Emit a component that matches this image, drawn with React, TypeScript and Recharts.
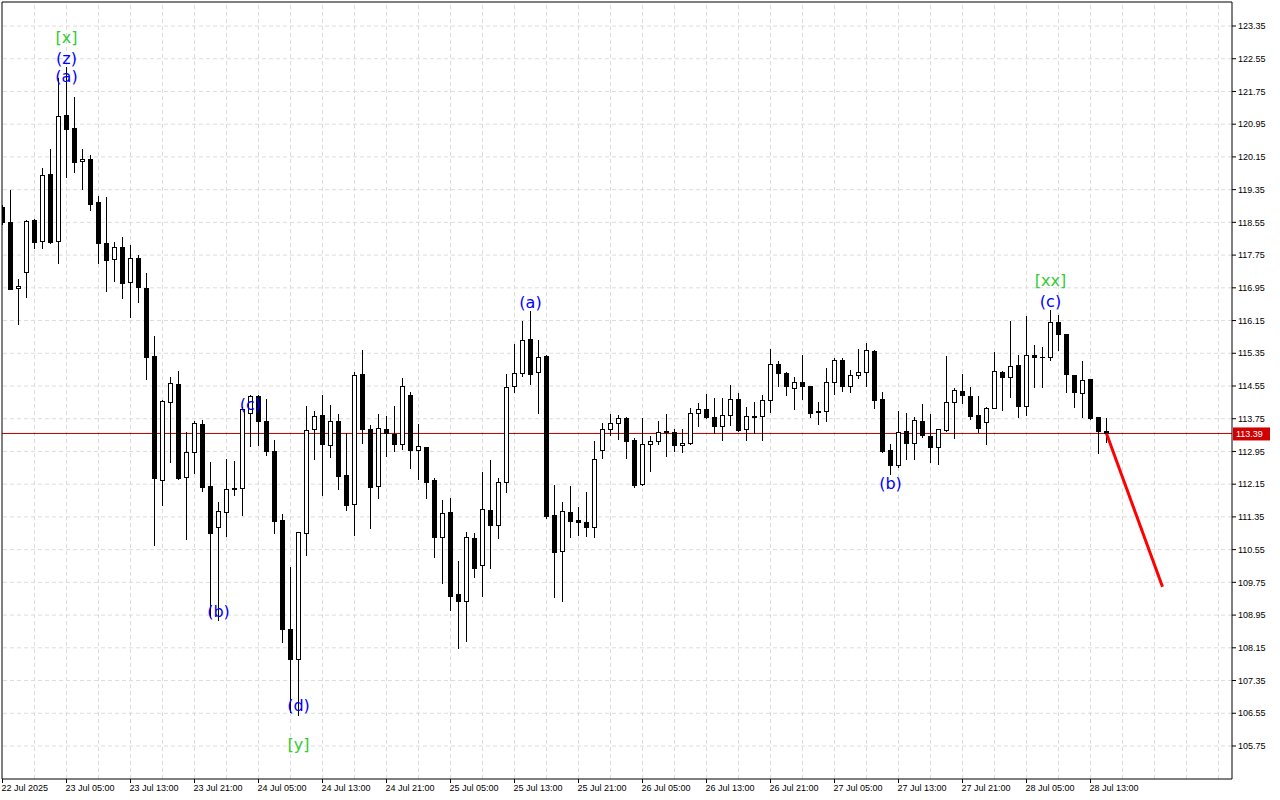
import { Bar, ComposedChart, ReferenceDot, ReferenceLine, XAxis, YAxis } from "recharts";

// hourly candles, index 0 = 22 Jul 21:00
const OPEN = [
  118.93, 118.56, 116.94, 117.33, 118.61, 118.1, 119.73, 118.09, 121.17, 120.86, 120.04, 120.09, 119.04, 118.04, 117.65, 117.94,
  117.09, 117.67, 116.95, 115.28, 112.25, 114.15, 114.6, 112.33, 112.93, 113.62, 112.11, 111.1, 111.46, 112.05, 112.05, 113.89,
  114.31, 113.69, 112.96, 111.27, 108.6, 107.87, 110.95, 113.49, 113.83, 113.1, 113.69, 112.37, 111.66, 114.84, 113.49, 112.11,
  113.49, 113.38, 113.14, 114.32, 112.98, 113.06, 112.24, 110.85, 111.46, 109.46, 109.29, 110.83, 110.17, 111.51, 111.15, 112.2,
  114.54, 114.86, 115.7, 114.89, 115.29, 111.4, 110.51, 111.46, 111.27, 111.22, 111.11, 112.98, 113.49, 113.64, 113.77, 113.23,
  112.15, 113.12, 113.2, 113.44, 113.42, 113.1, 113.15, 113.88, 113.98, 113.78, 113.58, 113.84, 114.22, 113.49, 113.81, 113.81,
  114.2, 115.08, 114.86, 114.49, 114.64, 114.54, 113.93, 113.93, 114.64, 115.19, 114.56, 114.83, 114.89, 115.41, 114.22, 112.98,
  112.63, 113.45, 113.15, 113.69, 113.33, 113.07, 113.47, 114.17, 114.43, 114.31, 113.83, 113.66, 114.02, 114.89, 114.76, 115.06,
  114.07, 115.31, 115.27, 115.25, 116.11, 115.81, 114.82, 114.37, 114.72, 113.78, 113.46,
];
const HIGH = [
  118.97, 119.34, 117.17, 118.61, 118.63, 119.88, 120.35, 122.08, 122.36, 121.61, 120.35, 120.2, 119.19, 119.17, 118.06, 118.19,
  118.0, 117.75, 117.31, 115.77, 114.21, 114.77, 114.92, 113.43, 113.7, 113.72, 112.68, 111.71, 112.77, 112.72, 114.04, 114.33,
  114.33, 114.23, 113.23, 111.42, 110.12, 110.99, 114.06, 113.95, 114.33, 114.09, 113.87, 113.39, 114.89, 115.43, 113.6, 113.87,
  113.82, 114.06, 114.75, 114.4, 113.62, 113.07, 112.3, 111.76, 111.8, 110.26, 110.97, 110.95, 112.44, 112.74, 112.29, 114.84,
  115.57, 116.14, 116.38, 115.67, 115.31, 112.13, 111.71, 112.11, 111.6, 111.96, 113.21, 113.65, 113.87, 113.83, 113.79, 113.27,
  113.76, 113.33, 113.69, 113.87, 113.5, 113.49, 114.0, 114.13, 114.35, 114.25, 114.25, 114.57, 114.39, 114.04, 114.17, 114.33,
  115.45, 115.17, 114.9, 114.76, 115.31, 114.55, 114.17, 114.98, 115.23, 115.23, 114.94, 115.45, 115.6, 115.44, 114.4, 113.14,
  113.95, 113.9, 113.79, 114.11, 113.87, 113.5, 115.29, 114.51, 114.84, 114.52, 114.31, 114.04, 115.39, 114.92, 116.14, 115.31,
  116.26, 115.55, 115.51, 116.41, 116.29, 115.82, 114.82, 115.15, 114.73, 113.8, 113.76,
];
const LOW = [
  118.51, 116.91, 116.07, 116.73, 117.93, 117.92, 118.05, 117.55, 119.67, 119.79, 119.37, 118.85, 117.56, 116.88, 117.12, 116.71,
  116.24, 116.61, 114.73, 110.66, 111.64, 112.7, 112.28, 110.81, 112.43, 111.99, 108.91, 108.83, 110.89, 111.89, 111.4, 113.09,
  113.11, 112.86, 110.95, 108.3, 106.59, 106.51, 110.42, 112.77, 111.89, 112.82, 112.04, 111.52, 110.91, 113.15, 111.09, 111.82,
  112.85, 112.97, 113.0, 112.55, 112.28, 111.82, 110.38, 109.74, 109.07, 108.14, 108.32, 109.88, 109.42, 110.11, 110.83, 111.95,
  114.41, 114.8, 114.59, 113.88, 111.32, 109.4, 109.3, 110.87, 110.91, 110.88, 110.87, 112.79, 113.35, 113.25, 112.8, 112.09,
  112.12, 112.48, 113.12, 112.85, 112.97, 112.94, 113.13, 113.58, 113.77, 113.41, 113.23, 113.6, 113.46, 113.23, 113.39, 113.23,
  113.92, 114.56, 114.32, 113.98, 114.22, 113.8, 113.61, 113.7, 114.36, 114.44, 114.41, 114.74, 114.56, 114.02, 112.93, 112.39,
  112.58, 112.76, 112.76, 113.3, 112.7, 112.64, 113.46, 113.29, 114.13, 113.74, 113.43, 113.13, 114.01, 113.96, 114.27, 113.78,
  113.84, 114.53, 114.53, 115.19, 115.42, 114.41, 114.04, 113.8, 113.75, 112.91, 113.19,
];
const CLOSE = [
  118.55, 116.93, 116.99, 118.58, 118.08, 119.71, 118.08, 121.14, 120.83, 120.03, 120.09, 119.01, 118.05, 117.64, 117.94, 117.08,
  117.67, 116.96, 115.27, 112.29, 114.18, 114.62, 112.31, 112.93, 113.64, 112.09, 110.96, 111.49, 112.03, 112.02, 113.98, 114.31,
  113.7, 112.97, 111.25, 108.6, 107.87, 110.97, 113.47, 113.82, 113.12, 113.69, 112.36, 111.65, 114.82, 113.49, 112.09, 113.52,
  113.41, 113.14, 114.54, 112.98, 113.08, 112.21, 110.87, 111.44, 109.42, 109.3, 110.85, 110.11, 111.54, 111.15, 112.2, 114.52,
  114.86, 115.67, 114.85, 115.26, 111.36, 110.48, 111.49, 111.26, 111.23, 111.11, 112.77, 113.49, 113.64, 113.76, 113.21, 112.14,
  113.13, 113.2, 113.43, 113.42, 113.1, 113.15, 113.88, 113.98, 113.78, 113.58, 113.84, 114.22, 113.47, 113.81, 113.79, 114.2,
  115.08, 114.86, 114.56, 114.64, 114.54, 113.9, 113.91, 114.64, 115.19, 114.56, 114.81, 114.89, 115.42, 114.21, 112.96, 112.63,
  113.42, 113.15, 113.72, 113.34, 113.07, 113.49, 114.16, 114.45, 114.32, 113.82, 113.53, 114.0, 114.92, 114.76, 115.03, 114.07,
  115.31, 115.27, 115.25, 116.11, 115.81, 114.84, 114.4, 114.69, 113.76, 113.45, 113.39,
];

const TIME_TICKS = [0, 8, 16, 24, 32, 40, 48, 56, 64, 72, 80, 88, 96, 104, 112, 120, 128, 136];
const TIME_LABELS = [
  "22 Jul 2025", "23 Jul 05:00", "23 Jul 13:00", "23 Jul 21:00", "24 Jul 05:00", "24 Jul 13:00",
  "24 Jul 21:00", "25 Jul 05:00", "25 Jul 13:00", "25 Jul 21:00", "26 Jul 05:00", "26 Jul 13:00",
  "26 Jul 21:00", "27 Jul 05:00", "27 Jul 13:00", "27 Jul 21:00", "28 Jul 05:00", "28 Jul 13:00",
];
const GRID_X = [
  4, 8, 12, 16, 20, 24, 28, 32, 36, 40, 44, 48, 52, 56, 60, 64, 68, 72, 76, 80, 84, 88, 92, 96, 100, 104, 108, 112, 116, 120,
  124, 128, 132, 136, 140, 144, 148, 152,
];
const PRICE_TICKS = [
  105.75, 106.55, 107.35, 108.15, 108.95, 109.75, 110.55, 111.35, 112.15, 112.95, 113.75, 114.55, 115.35, 116.15, 116.95,
  117.75, 118.55, 119.35, 120.15, 120.95, 121.75, 122.55, 123.35,
];
const X_DOMAIN = [-0.0625, 153.6875];
const Y_DOMAIN = [104.943, 123.937];

const LAST_PRICE = 113.39;
const FORECAST_X = [138, 145];
const FORECAST_Y = [113.39, 109.64];

const WAVE_TEXT = ["[x]", "(z)", "(a)", "(b)", "(c)", "(d)", "[y]", "(a)", "(b)", "[xx]", "(c)"];
const WAVE_BAR = [8, 8, 8, 27, 31, 37, 37, 66, 111, 131, 131];
const WAVE_PRICE = [123.06, 122.57, 122.13, 109.05, 114.11, 106.75, 105.8, 116.6, 112.18, 117.14, 116.63];

const FONT = "'Liberation Sans', Arial, sans-serif";
const WAVE_FONT = "'DejaVu Sans', sans-serif";

const data = OPEN.map((open, i) => ({
  i,
  open,
  high: HIGH[i],
  low: LOW[i],
  close: CLOSE[i],
  range: [LOW[i], HIGH[i]],
}));

function Candle(props: any) {
  const { x, y, width, height, payload } = props;
  if (!payload || x == null || y == null) return null;
  const { open, close, high, low } = payload;
  const top = Math.min(y, y + height);
  const ppu = Math.abs(height) / (high - low || 1);
  const py = (v: number) => top + (high - v) * ppu;
  const cx = Math.round(x + width / 2 - 0.5) + 0.5;
  const bodyTop = Math.round(py(Math.max(open, close))) + 0.5;
  const bodyBottom = Math.round(py(Math.min(open, close))) + 0.5;
  const bull = close >= open;
  return (
    <g>
      <line x1={cx} x2={cx} y1={Math.round(py(high))} y2={Math.round(py(low)) + 1} stroke="#000" strokeWidth={1} />
      {bodyBottom - bodyTop < 1 ? (
        <line x1={cx - 2.5} x2={cx + 2.5} y1={bodyTop} y2={bodyTop} stroke="#000" strokeWidth={1} />
      ) : (
        <rect x={cx - 2} y={bodyTop} width={4} height={bodyBottom - bodyTop} fill={bull ? "#fff" : "#000"} stroke="#000" strokeWidth={1} />
      )}
    </g>
  );
}

function TimeTick({ x, y, payload }: any) {
  const label = TIME_LABELS[TIME_TICKS.indexOf(payload.value)];
  return (
    <text x={x - 1} y={y} dy={7} fontSize={9} fontFamily={FONT} fill="#000" textAnchor="start">
      {label}
    </text>
  );
}

function PriceTag({ viewBox }: any) {
  if (!viewBox) return null;
  const left = viewBox.x + viewBox.width + 1;
  return (
    <g>
      <rect x={left} y={viewBox.y - 6} width={37} height={13} fill="#d00000" />
      <text x={left + 3} y={viewBox.y} dy="0.355em" fontSize={9} fontFamily={FONT} fill="#fff">
        {LAST_PRICE.toFixed(2)}
      </text>
    </g>
  );
}

export default function App() {
  return (
    <div style={{ position: "absolute", left: 0, top: 0, width: 1280, height: 800, background: "#fff" }}>
      <ComposedChart width={1280} height={800} data={data} margin={{ top: 2, right: 0, bottom: 0, left: 2 }}>
        <XAxis
          dataKey="i"
          type="number"
          domain={X_DOMAIN}
          allowDataOverflow
          ticks={TIME_TICKS}
          interval={0}
          tick={<TimeTick />}
          tickSize={4}
          tickMargin={1}
          height={21}
          axisLine={{ stroke: "#000" }}
          tickLine={{ stroke: "#000" }}
        />
        <YAxis
          orientation="right"
          type="number"
          domain={Y_DOMAIN}
          allowDataOverflow
          ticks={PRICE_TICKS}
          interval={0}
          width={48}
          tickSize={4}
          tickMargin={2}
          tickFormatter={(v: number) => v.toFixed(2)}
          tick={{ fontSize: 9, fontFamily: FONT, fill: "#000" }}
          axisLine={{ stroke: "#000" }}
          tickLine={{ stroke: "#000" }}
        />
        {GRID_X.map((k) => (
          <ReferenceLine key={"gx" + k} x={k} stroke="#dcdcdc" strokeDasharray="4 3" zIndex={-100} />
        ))}
        {PRICE_TICKS.map((p) => (
          <ReferenceLine key={"gy" + p} y={p} stroke="#dcdcdc" strokeDasharray="4 3" zIndex={-100} />
        ))}
        <ReferenceLine x={X_DOMAIN[0]} stroke="#000" />
        <ReferenceLine y={Y_DOMAIN[1]} stroke="#000" />
        <ReferenceLine y={LAST_PRICE} stroke="#b00000" zIndex={-40} label={<PriceTag />} />
        <Bar dataKey="range" barSize={5} isAnimationActive={false} shape={<Candle />} />
        {WAVE_TEXT.map((t, i) => (
          <ReferenceDot
            key={"w" + i}
            x={WAVE_BAR[i]}
            y={WAVE_PRICE[i]}
            r={0}
            ifOverflow="visible"
            zIndex={1000}
            shape={(p: any) => (
              <text
                x={p.cx}
                y={p.cy}
                dy="0.35em"
                textAnchor="middle"
                fontSize={16}
                fontFamily={WAVE_FONT}
                fill={t.startsWith("[") ? "#32cd32" : "#0000ff"}
              >
                {t}
              </text>
            )}
          />
        ))}
        <ReferenceLine
          segment={[
            { x: FORECAST_X[0], y: FORECAST_Y[0] },
            { x: FORECAST_X[1], y: FORECAST_Y[1] },
          ]}
          stroke="#ff0000"
          strokeWidth={3}
          ifOverflow="visible"
          zIndex={1000}
        />
      </ComposedChart>
    </div>
  );
}
